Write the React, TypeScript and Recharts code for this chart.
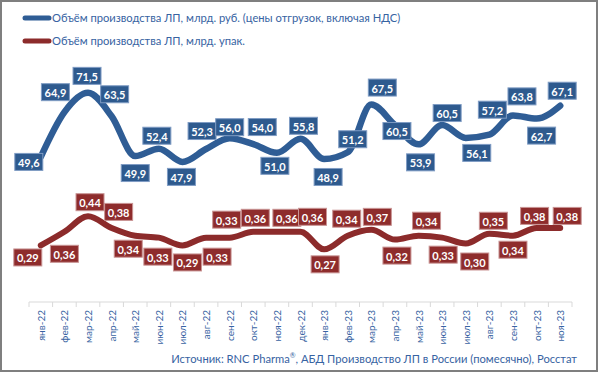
import React from "react";
import { LineChart, Line, XAxis, YAxis, LabelList } from "recharts";

const months = [
  "янв-22", "фев-22", "мар-22", "апр-22", "май-22", "июн-22", "июл-22", "авг-22", "сен-22", "окт-22", "ноя-22", "дек-22",
  "янв-23", "фев-23", "мар-23", "апр-23", "май-23", "июн-23", "июл-23", "авг-23", "сен-23", "окт-23", "ноя-23",
];
// млрд. руб.
const rubBn = [49.6, 64.9, 71.5, 63.5, 49.9, 52.4, 47.9, 52.3, 56.0, 54.0, 51.0, 55.8, 48.9, 51.2, 67.5, 60.5, 53.9, 60.5, 56.1, 57.2, 63.8, 62.7, 67.1];
// млрд. упак.
const packsBn = [0.29, 0.36, 0.44, 0.38, 0.34, 0.33, 0.29, 0.33, 0.33, 0.36, 0.36, 0.36, 0.27, 0.34, 0.37, 0.32, 0.34, 0.33, 0.30, 0.35, 0.34, 0.38, 0.38];

// label box offset from its point (dx, dy), hand-placed like in the source sheet
const rubShift: [number, number][] = [
  [-12, 5], [-9, -20], [-1, -17], [3, -22], [0, 17], [-2, -13], [-1, 15], [-4, -18], [0, -11], [9, -17], [-2, 13], [3, -13],
  [4, 18], [5, -13], [11, -17], [2, 6], [2, 18], [5, -12], [11, 15], [3, -25], [9, -19], [5, 17], [2, -15],
];
const packShift: [number, number][] = [
  [-13, 12], [0, 22], [2, -14], [7, -16], [-7, 13], [-1, 19], [5, 17], [11, 19], [-3, -18], [2, -14], [10, -14], [12, -15],
  [1, 15], [-1, -17], [6, -13], [2, 16], [8, -15], [1, 17], [9, 18], [4, -13], [0, 14], [-2, -12], [7, -12],
];

const data = months.map((m, i) => ({ month: m, rub: rubBn[i], packs: packsBn[i] }));

const W = 600;
const H = 373;
const M = { top: 68, right: 28, bottom: 11, left: 29 };
const STEP = (W - M.left - M.right) / months.length;
const BLUE = "#2F5D95";
const RED = "#8C2B2B";
const TXT = "#3763A2";
const FONT = "Lato, 'Noto Sans', sans-serif";

function MonthTick(props: any) {
  const { x, y, payload, index } = props;
  const h = STEP / 2;
  return (
    <g>
      <line x1={x - h} x2={x - h} y1={y} y2={y + 5} stroke="#D9D9D9" />
      {index === months.length - 1 && <line x1={x + h} x2={x + h} y1={y} y2={y + 5} stroke="#D9D9D9" />}
      <text x={x} y={y + 8} transform={`rotate(-90, ${x}, ${y + 8})`} textAnchor="end" dominantBaseline="central"
        fill={TXT} fontSize={10} fontFamily={FONT}>{payload.value}</text>
    </g>
  );
}

const boxLabel = (shift: [number, number][], fill: string, edge: string, digits: number) => (p: any) => {
  const { x, y, value, index } = p;
  const [dx, dy] = shift[index];
  const cx = x + dx;
  const cy = y + dy;
  const txt = Number(value).toFixed(digits).replace(".", ",");
  const w = txt.length * 6 + 4;
  return (
    <g>
      <rect x={cx - w / 2} y={cy - 8.5} width={w} height={17} fill={fill} stroke={edge} strokeWidth={1} />
      <text x={cx} y={cy + 0.5} textAnchor="middle" dominantBaseline="central" fill="#fff" fontWeight="bold"
        fontSize={11} fontFamily={FONT}>{txt}</text>
    </g>
  );
};

function LegendRow({ color, label }: { color: string; label: string }) {
  return (
    <div style={{ display: "flex", alignItems: "center", height: 23 }}>
      <svg width={30} height={10}>
        <line x1={3} x2={27} y1={5} y2={5} stroke={color} strokeWidth={5} strokeLinecap="round" />
      </svg>
      <span>{label}</span>
    </div>
  );
}

export default function App() {
  return (
    <div style={{ position: "absolute", left: 0, top: 0, width: W, height: H, background: "#fff", fontFamily: FONT }}>
      <LineChart width={W} height={H} data={data} margin={M}>
        <XAxis dataKey="month" scale="band" interval={0} tickLine={false} tickSize={0} tickMargin={0} height={60}
          axisLine={{ stroke: "#D9D9D9" }} tick={<MonthTick />} />
        <YAxis yAxisId="rub" domain={[0, 80]} hide />
        <YAxis yAxisId="packs" domain={[0, 1.2]} hide orientation="right" />
        <Line yAxisId="rub" type="monotone" dataKey="rub" stroke={BLUE} strokeWidth={6.5} strokeLinecap="round"
          dot={false} isAnimationActive={false}>
          <LabelList dataKey="rub" content={boxLabel(rubShift, "#2E5A8E", "#7F9CC4", 1)} />
        </Line>
        <Line yAxisId="packs" type="monotone" dataKey="packs" stroke={RED} strokeWidth={6} strokeLinecap="round"
          dot={false} isAnimationActive={false}>
          <LabelList dataKey="packs" content={boxLabel(packShift, "#8E2C2C", "#C99494", 2)} />
        </Line>
      </LineChart>
      <div style={{ position: "absolute", left: 22, top: 6, fontSize: 11.2, color: TXT }}>
        <LegendRow color={BLUE} label="Объём производства ЛП, млрд. руб. (цены отгрузок, включая НДС)" />
        <LegendRow color={RED} label="Объём производства ЛП, млрд. упак." />
      </div>
      <div style={{ position: "absolute", right: 23, top: 351, fontSize: 11.2, color: TXT, whiteSpace: "nowrap" }}>
        Источник: RNC Pharma<sup style={{ fontSize: 7 }}>®</sup>, АБД Производство ЛП в России (помесячно), Росстат
      </div>
      <div style={{ position: "absolute", left: 0, top: 0, width: 598, height: 372, boxSizing: "border-box",
        border: "2px solid #7F7F7F", pointerEvents: "none" }} />
    </div>
  );
}
